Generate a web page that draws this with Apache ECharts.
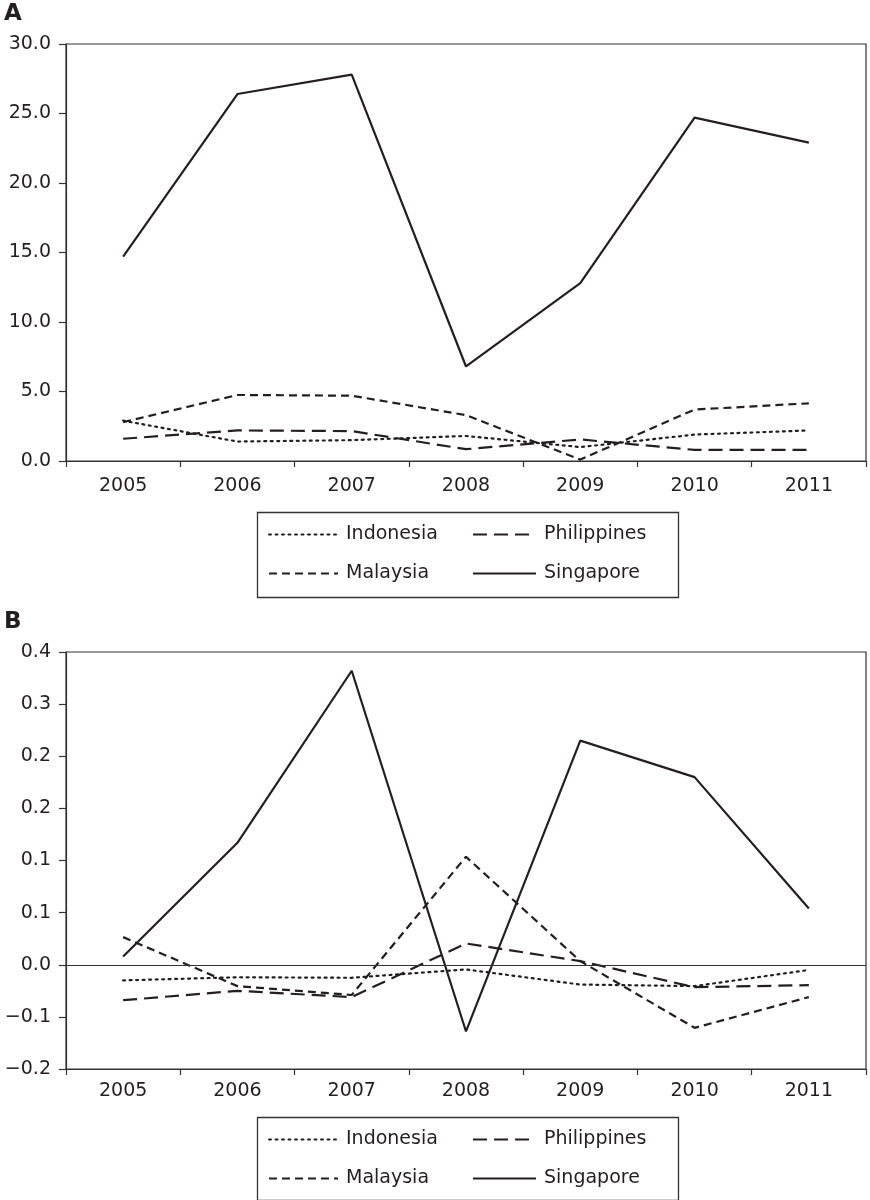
<!DOCTYPE html>
<html>
<head>
<meta charset="utf-8">
<script src="https://cdn.jsdelivr.net/npm/echarts@6/dist/echarts.min.js"></script>
<style>
html,body{margin:0;padding:0;background:#fff;}
#chart{width:870px;height:1200px;}
</style>
</head>
<body>
<div id="chart"></div>
<script>
// ---- data ----
const years = ['2005', '2006', '2007', '2008', '2009', '2010', '2011'];
const seriesNames = ['Indonesia', 'Philippines', 'Malaysia', 'Singapore'];

// Panel A
const aIndonesia   = [2.9, 1.4, 1.5, 1.8, 1.0, 1.9, 2.2];
const aPhilippines = [1.6, 2.2, 2.15, 0.85, 1.55, 0.8, 0.8];
const aMalaysia    = [2.8, 4.75, 4.7, 3.3, 0.1, 3.7, 4.15];
const aSingapore   = [14.7, 26.4, 27.8, 6.8, 12.8, 24.7, 22.9];

// Panel B
const bIndonesia   = [-0.015, -0.012, -0.0125, -0.0045, -0.019, -0.0205, -0.005];
const bPhilippines = [-0.034, -0.025, -0.031, 0.0204, 0.0035, -0.0215, -0.0196];
const bMalaysia    = [0.0265, -0.0205, -0.029, 0.1036, 0.0035, -0.0605, -0.031];
const bSingapore   = [0.008, 0.117, 0.282, -0.064, 0.215, 0.18, 0.054];

// Panel B tick labels (as printed)
const bTickLabels = ['\u22120.2', '\u22120.1', '0.0', '0.1', '0.1', '0.2', '0.2', '0.3', '0.4'];
const bMin = -0.1, bMax = 0.3, bInterval = 0.05;

// ---- styles ----
const ink = '#231f20';
const FONT = 'DejaVu Sans';
const styles = {
  Indonesia:   {type: [2, 4.5], width: 2.2, cap: 'round'},
  Philippines: {type: [14, 7], width: 2.2, cap: 'butt'},
  Malaysia:    {type: [8, 5], width: 2.2, cap: 'butt'},
  Singapore:   {type: 'solid', width: 2.2, cap: 'butt'}
};

function mkSeries(name, data, idx, extra) {
  const s = styles[name];
  return Object.assign({
    name: name,
    type: 'line',
    xAxisIndex: idx,
    yAxisIndex: idx,
    data: data,
    symbol: 'none',
    smooth: false,
    animation: false,
    itemStyle: {color: ink},
    lineStyle: {color: ink, width: s.width, type: s.type, cap: s.cap}
  }, extra || {});
}

function xAxisDef(gi, margin) {
  return {
    type: 'category', gridIndex: gi, data: years, boundaryGap: true,
    axisLine: {onZero: false, lineStyle: {color: '#333', width: 1.2}},
    axisTick: {show: true, alignWithLabel: false, length: 6, lineStyle: {color: '#333', width: 1.2}},
    axisLabel: {color: ink, fontFamily: FONT, fontSize: 19, margin: margin}
  };
}

function legendDef(left, top, names, w) {
  return {
    orient: 'vertical', left: left, top: top, padding: 0,
    itemWidth: w, itemHeight: 20, itemGap: 20,
    data: names, selectedMode: false,
    itemStyle: {opacity: 0, color: 'transparent', borderWidth: 0},
    textStyle: {color: ink, fontFamily: FONT, fontSize: 19, padding: [0, 0, 0, 3]}
  };
}

const chart = echarts.init(document.getElementById('chart'), null, {renderer: 'canvas'});
const option = {
  backgroundColor: '#fff',
  animation: false,
  title: [
    {text: 'A', left: 4, top: 3, padding: 0, textStyle: {fontFamily: FONT, fontWeight: 'bold', fontSize: 23, color: ink}},
    {text: 'B', left: 4, top: 611, padding: 0, textStyle: {fontFamily: FONT, fontWeight: 'bold', fontSize: 23, color: ink}}
  ],
  grid: [
    {left: 66, top: 44, width: 800, height: 417, show: true, borderColor: '#333', borderWidth: 1.2, backgroundColor: 'transparent'},
    {left: 66, top: 652, width: 800, height: 417, show: true, borderColor: '#333', borderWidth: 1.2, backgroundColor: 'transparent'}
  ],
  xAxis: [xAxisDef(0, 16), xAxisDef(1, 13)],
  yAxis: [
    {
      type: 'value', gridIndex: 0, min: 0, max: 30, interval: 5,
      splitLine: {show: false},
      axisLine: {show: true, lineStyle: {color: '#333', width: 1.2}},
      axisTick: {show: true, length: 7, lineStyle: {color: '#333', width: 1.2}},
      axisLabel: {color: ink, fontFamily: FONT, fontSize: 19, margin: 15,
        formatter: v => v.toFixed(1)}
    },
    {
      type: 'value', gridIndex: 1, min: bMin, max: bMax, interval: bInterval,
      splitLine: {show: false},
      axisLine: {show: true, lineStyle: {color: '#333', width: 1.2}},
      axisTick: {show: true, length: 7, lineStyle: {color: '#333', width: 1.2}},
      axisLabel: {color: ink, fontFamily: FONT, fontSize: 19, margin: 15,
        formatter: v => bTickLabels[Math.round((v - bMin) / bInterval)]}
    }
  ],
  legend: [
    legendDef(268, 525, ['Indonesia', 'Malaysia'], 69),
    legendDef(472, 525, ['Philippines', 'Singapore'], 63),
    legendDef(268, 1130, ['Indonesia', 'Malaysia'], 69),
    legendDef(472, 1130, ['Philippines', 'Singapore'], 63)
  ],
  graphic: [
    {type: 'rect', left: 255, top: 510, shape: {x: 0, y: 0, width: 421, height: 85},
      style: {fill: 'none', stroke: '#333', lineWidth: 1.3}, silent: true},
    {type: 'rect', left: 255, top: 1115, shape: {x: 0, y: 0, width: 421, height: 83},
      style: {fill: 'none', stroke: '#333', lineWidth: 1.3}, silent: true}
  ],
  series: [
    mkSeries('Indonesia', aIndonesia, 0),
    mkSeries('Philippines', aPhilippines, 0),
    mkSeries('Malaysia', aMalaysia, 0),
    mkSeries('Singapore', aSingapore, 0),
    mkSeries('Indonesia', bIndonesia, 1),
    mkSeries('Philippines', bPhilippines, 1),
    mkSeries('Malaysia', bMalaysia, 1),
    mkSeries('Singapore', bSingapore, 1, {
      markLine: {
        silent: true, symbol: ['none', 'none'], label: {show: false},
        lineStyle: {color: '#333', width: 1.2, type: 'solid'},
        data: [{yAxis: 0}]
      }
    })
  ]
};
chart.setOption(option);
</script>
</body>
</html>
